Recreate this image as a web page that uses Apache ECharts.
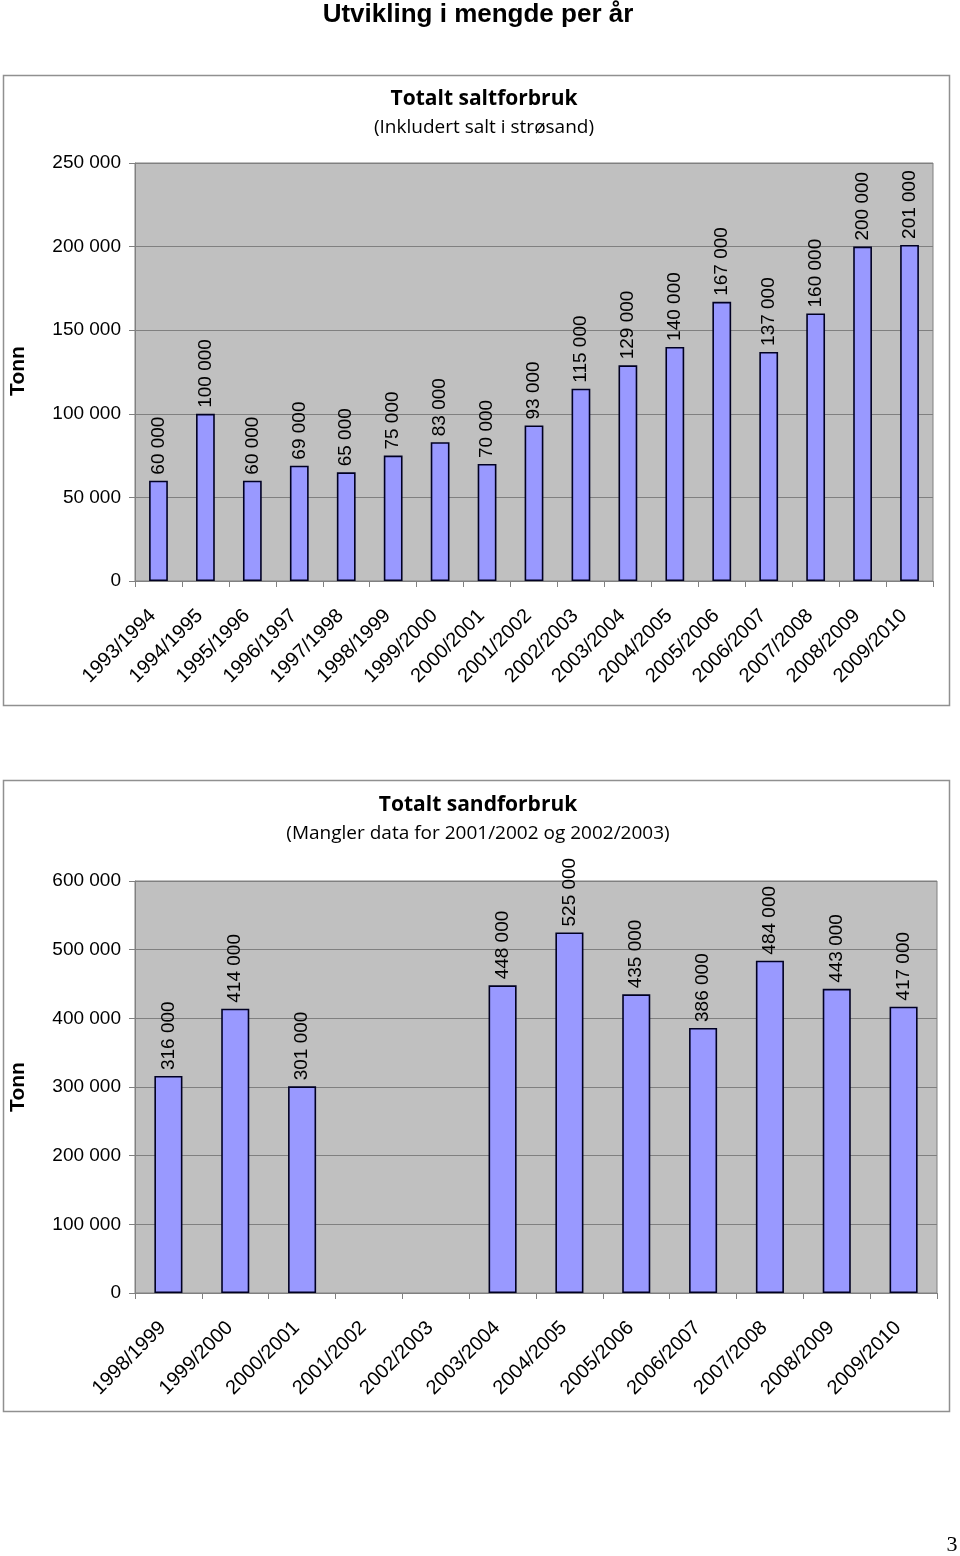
<!DOCTYPE html>
<html>
<head>
<meta charset="utf-8">
<script src="https://cdn.jsdelivr.net/npm/echarts@6/dist/echarts.min.js"></script>
<style>
html,body{margin:0;padding:0;background:#fff;}
#c{width:960px;height:1556px;}
</style>
</head>
<body>
<div id="c"></div>
<script>
const pageTitle = "Utvikling i mengde per år";
const saltTitle = "Totalt saltforbruk";
const saltSubtitle = "(Inkludert salt i strøsand)";
const saltCategories = ["1993/1994","1994/1995","1995/1996","1996/1997","1997/1998","1998/1999","1999/2000","2000/2001","2001/2002","2002/2003","2003/2004","2004/2005","2005/2006","2006/2007","2007/2008","2008/2009","2009/2010"];
const saltValues = [60000,100000,60000,69000,65000,75000,83000,70000,93000,115000,129000,140000,167000,137000,160000,200000,201000];
const sandTitle = "Totalt sandforbruk";
const sandSubtitle = "(Mangler data for 2001/2002 og 2002/2003)";
const sandCategories = ["1998/1999","1999/2000","2000/2001","2001/2002","2002/2003","2003/2004","2004/2005","2005/2006","2006/2007","2007/2008","2008/2009","2009/2010"];
const sandValues = [316000,414000,301000,null,null,448000,525000,435000,386000,484000,443000,417000];
const yName = "Tonn";
const pageNumber = "3";

function fmt(v){ return String(v).replace(/\B(?=(\d{3})+(?!\d))/g, " "); }

const chart = echarts.init(document.getElementById('c'), null, {renderer:'canvas'});
const axisFont = {fontFamily:'"Liberation Sans", Arial, sans-serif', fontSize:19, color:'#000'};
const titleFamily = '"Open Sans","Liberation Sans",sans-serif';

function yAxis(gi, max, interval){
  return {
    type:'value', gridIndex:gi, min:0, max:max, interval:interval,
    axisLine:{show:true, lineStyle:{color:'#808080', width:1}},
    axisTick:{show:true, length:6, lineStyle:{color:'#808080'}},
    splitLine:{show:true, lineStyle:{color:'#808080', width:1}},
    axisLabel:Object.assign({margin:14, formatter:fmt}, axisFont)
  };
}
function xAxis(gi, cats){
  return {
    type:'category', gridIndex:gi, data:cats,
    axisLine:{show:true, lineStyle:{color:'#808080', width:1}},
    axisTick:{show:true, length:6, alignWithLabel:false, lineStyle:{color:'#808080'}},
    axisLabel:Object.assign({rotate:45, margin:26, interval:0, padding:[0,8,0,0]}, axisFont, {fontSize:20})
  };
}
function barSeries(gi, vals, gap){
  return {
    type:'bar', xAxisIndex:gi, yAxisIndex:gi, data:vals,
    barCategoryGap:gap,
    itemStyle:{color:'#9999FF', borderColor:'#000022', borderWidth:1.6},
    label:Object.assign({show:true, position:'top', rotate:90, distance:6, align:'left', verticalAlign:'middle',
      formatter:p => fmt(p.value)}, axisFont),
    silent:true, animation:false
  };
}
function txt(x, y, text, font, extra){
  return Object.assign({type:'text', x:x, y:y, style:{text:text, font:font, fill:'#000', align:'center', verticalAlign:'middle'}}, extra||{});
}

const option = {
  animation:false,
  grid:[
    {left:135, top:163, width:798, height:418, show:true, backgroundColor:'#C0C0C0', borderColor:'#808080', borderWidth:1},
    {left:135, top:881, width:802, height:412, show:true, backgroundColor:'#C0C0C0', borderColor:'#808080', borderWidth:1}
  ],
  xAxis:[xAxis(0, saltCategories), xAxis(1, sandCategories)],
  yAxis:[yAxis(0, 250000, 50000), yAxis(1, 600000, 100000)],
  series:[barSeries(0, saltValues, '60%'), barSeries(1, sandValues, '58%')],
  graphic:[
    {type:'rect', shape:{x:3.5, y:75.5, width:946, height:630}, style:{fill:null, stroke:'#909090', lineWidth:1.5}, z:-10},
    {type:'rect', shape:{x:3.5, y:780.5, width:946, height:631}, style:{fill:null, stroke:'#909090', lineWidth:1.5}, z:-10},
    txt(478, 15, pageTitle, 'bold 26px "Liberation Sans", Arial, sans-serif'),
    txt(484, 99, saltTitle, 'bold 21px ' + titleFamily),
    txt(484, 128, saltSubtitle, '19px ' + titleFamily),
    txt(478, 805, sandTitle, 'bold 21px ' + titleFamily),
    txt(478, 834, sandSubtitle, '19px ' + titleFamily),
    txt(18, 371, yName, 'bold 21px "Liberation Sans", Arial, sans-serif', {rotation:Math.PI/2}),
    txt(18, 1087, yName, 'bold 21px "Liberation Sans", Arial, sans-serif', {rotation:Math.PI/2}),
    txt(952, 1545, pageNumber, '22px "Liberation Serif", "DejaVu Serif", serif')
  ]
};
chart.setOption(option);
</script>
</body>
</html>
